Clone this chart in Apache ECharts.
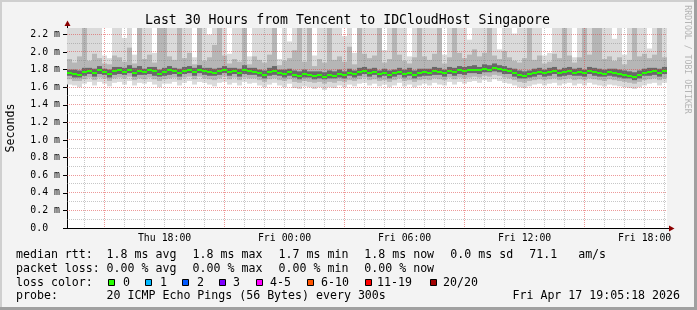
<!DOCTYPE html>
<html><head><meta charset="utf-8">
<script src="https://cdn.jsdelivr.net/npm/echarts@6/dist/echarts.min.js"></script>
<style>html,body{margin:0;padding:0;background:#f3f3f3}#c{width:697px;height:310px}</style>
</head><body><div id="c"></div>
<script>
// ---- time axis (hours since Thu 00:00) ----
const startHour = 13.12;      // Thu ~13:07
const stepHours = 0.25;       // one smoke column = 15 min
const endHour = 43.12;        // Fri ~19:07
const xTickValues = [18, 24, 30, 36, 42];
const xTickLabels = ['Thu 18:00', 'Fri 00:00', 'Fri 06:00', 'Fri 12:00', 'Fri 18:00'];
const xMinorGrid = [14,16,17,18,19,20,22,23,24,25,26,28,29,30,31,32,34,35,36,37,38,40,41,42,43];
const xMajorGrid = [15, 21, 27, 33, 39];
// ---- value axis (milliseconds) ----
const yMax = 2.2727;
const yTickValues = [0, 0.2, 0.4, 0.6, 0.8, 1.0, 1.2, 1.4, 1.6, 1.8, 2.0, 2.2];
const yMinorGrid = [0.1, 0.3, 0.5, 0.7, 0.9, 1.1, 1.3, 1.5, 1.7, 1.9, 2.1];
const yMajorGrid = [0.2, 0.4, 0.6, 0.8, 1.0, 1.2, 1.4, 1.6, 1.8, 2.0, 2.2];

// ---- smoke data (ms), one value per 15-minute column ----
const median = [
 1.76,1.75,1.74,1.77,1.78,1.76,1.79,1.77,1.75,1.78,
 1.79,1.77,1.80,1.76,1.78,1.77,1.79,1.78,1.75,1.77,
 1.79,1.78,1.76,1.78,1.80,1.77,1.79,1.78,1.77,1.76,
 1.78,1.79,1.77,1.78,1.76,1.79,1.78,1.77,1.76,1.74,
 1.77,1.78,1.76,1.75,1.77,1.74,1.73,1.75,1.74,1.73,
 1.74,1.72,1.74,1.73,1.75,1.74,1.76,1.75,1.77,1.78,
 1.76,1.77,1.75,1.76,1.74,1.76,1.77,1.75,1.76,1.74,
 1.76,1.77,1.76,1.78,1.77,1.76,1.78,1.77,1.79,1.78,
 1.79,1.80,1.79,1.81,1.80,1.82,1.81,1.79,1.78,1.76,
 1.74,1.73,1.75,1.76,1.77,1.76,1.77,1.78,1.76,1.77,
 1.78,1.76,1.77,1.76,1.78,1.77,1.76,1.75,1.77,1.76,
 1.75,1.74,1.73,1.72,1.74,1.76,1.77,1.78,1.76,1.78];
const pingQ1 = [
 1.73,1.71,1.71,1.73,1.75,1.72,1.75,1.74,1.71,1.74,
 1.75,1.74,1.76,1.72,1.74,1.74,1.75,1.73,1.72,1.73,
 1.74,1.75,1.72,1.75,1.76,1.73,1.76,1.74,1.73,1.73,
 1.74,1.76,1.73,1.75,1.72,1.75,1.74,1.74,1.72,1.70,
 1.73,1.74,1.73,1.71,1.73,1.71,1.69,1.71,1.71,1.69,
 1.70,1.69,1.70,1.70,1.71,1.70,1.73,1.71,1.73,1.75,
 1.72,1.74,1.71,1.73,1.70,1.72,1.74,1.71,1.73,1.70,
 1.72,1.73,1.73,1.74,1.74,1.72,1.75,1.73,1.75,1.74,
 1.76,1.76,1.75,1.77,1.77,1.78,1.77,1.75,1.75,1.72,
 1.70,1.70,1.71,1.72,1.74,1.72,1.73,1.75,1.72,1.73,
 1.74,1.73,1.73,1.72,1.75,1.73,1.72,1.72,1.73,1.72,
 1.71,1.70,1.70,1.68,1.70,1.73,1.73,1.74,1.72,1.75];
const pingQ3 = [
 1.80,1.80,1.79,1.82,1.82,1.81,1.84,1.81,1.80,1.83,
 1.83,1.82,1.85,1.82,1.84,1.81,1.83,1.83,1.80,1.82,
 1.84,1.82,1.81,1.83,1.84,1.82,1.85,1.82,1.82,1.81,
 1.82,1.84,1.82,1.82,1.81,1.85,1.82,1.82,1.80,1.79,
 1.82,1.84,1.80,1.80,1.81,1.79,1.78,1.80,1.78,1.78,
 1.78,1.77,1.79,1.78,1.80,1.78,1.81,1.79,1.82,1.83,
 1.81,1.82,1.79,1.81,1.79,1.80,1.82,1.80,1.82,1.79,
 1.81,1.81,1.81,1.83,1.82,1.80,1.83,1.82,1.84,1.83,
 1.84,1.85,1.83,1.86,1.85,1.87,1.85,1.84,1.82,1.81,
 1.79,1.78,1.79,1.81,1.82,1.80,1.82,1.83,1.80,1.82,
 1.83,1.81,1.82,1.80,1.83,1.82,1.81,1.80,1.81,1.81,
 1.80,1.79,1.78,1.77,1.79,1.81,1.82,1.82,1.81,1.83];
const pingLow = [
 1.69,1.67,1.67,1.69,1.71,1.68,1.71,1.70,1.67,1.70,
 1.71,1.70,1.72,1.68,1.70,1.69,1.71,1.69,1.67,1.69,
 1.70,1.71,1.68,1.71,1.72,1.69,1.72,1.70,1.69,1.68,
 1.70,1.72,1.69,1.71,1.68,1.71,1.70,1.70,1.68,1.66,
 1.69,1.70,1.68,1.67,1.69,1.66,1.65,1.67,1.66,1.65,
 1.66,1.64,1.66,1.65,1.67,1.66,1.68,1.67,1.69,1.71,
 1.68,1.69,1.67,1.68,1.66,1.68,1.70,1.67,1.68,1.66,
 1.68,1.69,1.68,1.70,1.69,1.68,1.71,1.69,1.71,1.70,
 1.71,1.72,1.71,1.73,1.72,1.74,1.73,1.71,1.70,1.68,
 1.66,1.65,1.67,1.68,1.69,1.68,1.69,1.70,1.68,1.69,
 1.70,1.68,1.69,1.68,1.70,1.69,1.68,1.67,1.69,1.68,
 1.67,1.66,1.65,1.64,1.66,1.68,1.69,1.70,1.68,1.70];
const pingMin = [
 1.63,1.62,1.60,1.64,1.66,1.62,1.66,1.64,1.61,1.65,
 1.66,1.63,1.67,1.62,1.65,1.64,1.66,1.63,1.60,1.64,
 1.64,1.66,1.62,1.65,1.67,1.63,1.66,1.65,1.63,1.61,
 1.65,1.66,1.63,1.65,1.62,1.66,1.64,1.65,1.62,1.60,
 1.63,1.65,1.62,1.60,1.64,1.59,1.58,1.61,1.60,1.58,
 1.60,1.57,1.60,1.59,1.62,1.60,1.63,1.61,1.64,1.65,
 1.62,1.64,1.61,1.63,1.60,1.62,1.65,1.61,1.63,1.60,
 1.62,1.64,1.62,1.65,1.63,1.62,1.66,1.63,1.66,1.64,
 1.66,1.67,1.65,1.68,1.66,1.69,1.67,1.65,1.64,1.62,
 1.60,1.59,1.61,1.63,1.64,1.62,1.64,1.65,1.62,1.64,
 1.65,1.62,1.64,1.62,1.65,1.63,1.62,1.61,1.63,1.62,
 1.61,1.60,1.59,1.58,1.60,1.62,1.64,1.65,1.62,1.65];
const pingHigh = [
 1.92,1.88,1.95,2.40,1.90,1.98,1.93,1.87,1.86,1.96,
 1.94,1.89,2.05,1.87,2.40,1.92,1.97,1.88,2.40,2.40,
 1.95,1.91,2.40,1.93,1.99,1.86,2.40,1.90,1.94,2.08,
 2.40,1.96,1.87,1.92,1.89,2.40,1.86,1.95,1.91,1.88,
 1.97,2.40,1.85,1.90,1.93,2.02,2.40,1.89,2.40,1.84,
 1.92,1.88,2.40,1.91,1.95,1.89,2.06,1.86,2.40,1.98,
 1.93,1.96,2.40,1.88,1.92,2.40,1.97,1.90,1.87,1.94,
 2.40,1.95,1.91,1.98,2.40,1.87,1.94,2.40,1.99,1.93,
 1.97,2.03,1.95,1.99,2.40,1.96,1.92,2.01,1.94,1.90,
 1.88,1.93,2.40,1.91,1.96,1.87,1.89,1.98,1.93,2.40,
 1.96,1.88,1.94,2.40,1.97,2.40,2.40,1.92,1.95,1.90,
 1.94,1.86,1.91,2.40,1.95,1.98,1.93,1.97,2.40,1.94];
const pingMax = [
 2.50,2.50,2.50,2.50,2.50,2.50,2.50,1.96,1.93,2.50,
 2.50,2.16,2.50,1.97,2.50,2.50,2.50,1.99,2.50,2.50,
 2.50,2.50,2.50,2.50,2.50,1.94,2.50,2.50,2.20,2.50,
 2.50,2.50,1.98,2.50,2.50,2.50,1.95,2.50,2.50,2.50,
 2.50,2.50,1.92,2.50,2.12,2.50,2.50,2.50,2.50,1.96,
 2.50,2.50,2.50,2.50,2.50,2.18,2.50,1.99,2.50,2.50,
 2.50,2.50,2.50,2.02,2.50,2.50,2.50,2.50,1.95,2.50,
 2.50,2.50,2.50,2.50,2.50,1.97,2.50,2.50,2.50,2.50,
 2.14,2.50,2.50,2.50,2.50,2.50,2.03,2.50,2.50,2.21,
 2.50,2.50,2.50,2.50,2.50,1.96,1.99,2.50,2.50,2.50,
 2.50,1.94,2.50,2.50,2.50,2.50,2.50,2.50,2.50,2.15,
 2.50,1.97,2.50,2.50,2.50,2.50,2.04,2.50,2.50,2.50];

// ---- legend texts ----
const titleText = 'Last 30 Hours from Tencent to IDCloudHost Singapore';
const yAxisName = 'Seconds';
const watermark = 'RRDTOOL / TOBI OETIKER';
const rttItems = ['median rtt:', '1.8 ms avg', '1.8 ms max', '1.7 ms min', '1.8 ms now', '0.0 ms sd', '71.1   am/s'];
const lossItems = ['packet loss:', '0.00 % avg', '0.00 % max', '0.00 % min', '0.00 % now'];
const lossLabels = ['0', '1', '2', '3', '4-5', '6-10', '11-19', '20/20'];
const lossColors = ['#26ff00', '#00b8ff', '#0059ff', '#7e00ff', '#ff00ff', '#ff5500', '#ff0000', '#a10000'];
const probeText = '20 ICMP Echo Pings (56 Bytes) every 300s';
const dateText = 'Fri Apr 17 19:05:18 2026';

// ---- layout (styles / positions only) ----
const MONO = '"DejaVu Sans Mono", monospace';
const itemX = [16, 106.6, 192.6, 278.6, 364.3, 450.3, 529.3];
const lineY = [254.9, 268.7, 282.5, 296.3];
const boxX = [108, 145, 182, 219, 256, 307, 365, 430];
const boxTextX = [123, 160, 197, 233, 270, 321, 377, 443];

const smokeData = median.map((m, i) => [startHour + i * stepHours, pingMin[i], pingLow[i], pingQ1[i], m, pingQ3[i], pingHigh[i], pingMax[i]]);
const medData = median.map((m, i) => [startHour + i * stepHours, m]);

function renderSmoke(params, api) {
  const cs = params.coordSys;
  const t = api.value(0);
  const x0 = api.coord([t, 0])[0];
  const x1 = api.coord([t + stepHours, 0])[0];
  function band(lo, hi, color) {
    let yT = api.coord([t, hi])[1], yB = api.coord([t, lo])[1];
    yT = Math.max(yT, cs.y); yB = Math.min(yB, cs.y + cs.height);
    return { type: 'rect', shape: { x: x0, y: yT, width: x1 - x0, height: Math.max(0, yB - yT) }, style: { fill: color } };
  }
  return { type: 'group', children: [
    band(api.value(1), api.value(7), '#dadada'),
    band(api.value(2), api.value(6), '#b6b6b6'),
    band(api.value(3), api.value(5), '#686868')
  ]};
}
function renderMedian(params, api) {
  const t = api.value(0);
  const p = api.coord([t, api.value(1)]);
  const x1 = api.coord([t + stepHours, 0])[0];
  const y = Math.round(p[1] - 1);
  return { type: 'rect', shape: { x: p[0], y: y, width: x1 - p[0], height: 2 }, style: { fill: '#26ff00' } };
}
function vLine(color) {
  return function (params, api) {
    const cs = params.coordSys;
    const x = Math.floor(api.coord([api.value(0), 0])[0]) + 0.5;
    return { type: 'line', shape: { x1: x, y1: cs.y, x2: x, y2: cs.y + cs.height }, style: { stroke: color, lineWidth: 1, lineDash: [1, 1] } };
  };
}
function hLine(color) {
  return function (params, api) {
    const cs = params.coordSys;
    const y = Math.floor(api.coord([startHour, api.value(1)])[1]) + 0.5;
    return { type: 'line', shape: { x1: cs.x, y1: y, x2: cs.x + cs.width, y2: y }, style: { stroke: color, lineWidth: 1, lineDash: [1, 1] } };
  };
}
const GRAY = 'rgba(130,130,130,0.45)';
const RED = 'rgba(222,70,70,0.55)';

function txt(text, x, y, size, extra) {
  return { type: 'text', x: x, y: y, silent: true, style: Object.assign({ text: text, fontFamily: MONO, fontSize: size, fill: '#000', align: 'left', verticalAlign: 'middle' }, extra || {}) };
}
const graphics = [];
// frame
graphics.push({ type: 'rect', shape: { x: 0, y: 0, width: 697, height: 2 }, style: { fill: '#cfcfcf' }, silent: true });
graphics.push({ type: 'rect', shape: { x: 0, y: 0, width: 2, height: 310 }, style: { fill: '#cfcfcf' }, silent: true });
graphics.push({ type: 'rect', shape: { x: 694, y: 0, width: 3, height: 310 }, style: { fill: '#a0a0a0' }, silent: true });
graphics.push({ type: 'rect', shape: { x: 0, y: 307, width: 697, height: 3 }, style: { fill: '#a0a0a0' }, silent: true });
// title
graphics.push(txt(titleText, 347.5, 20.1, 13.2, { align: 'center' }));
// axis name
graphics.push({ type: 'text', x: 11, y: 128, rotation: Math.PI / 2, silent: true, style: { text: yAxisName, fontFamily: MONO, fontSize: 11.6, fill: '#000', align: 'center', verticalAlign: 'middle' } });
// watermark
graphics.push({ type: 'text', x: 687, y: 59.5, rotation: -Math.PI / 2, silent: true, style: { text: watermark, fontFamily: MONO, fontSize: 8.2, fill: '#b4b4b4', align: 'center', verticalAlign: 'middle' } });
// axis extensions and arrows
graphics.push({ type: 'line', shape: { x1: 67.5, y1: 28, x2: 67.5, y2: 24 }, style: { stroke: '#000', lineWidth: 1 }, silent: true });
graphics.push({ type: 'polygon', shape: { points: [[64.5, 26], [70.5, 26], [67.5, 20.5]] }, style: { fill: '#8b0000' }, silent: true });
graphics.push({ type: 'line', shape: { x1: 667, y1: 228.5, x2: 671, y2: 228.5 }, style: { stroke: '#000', lineWidth: 1 }, silent: true });
graphics.push({ type: 'polygon', shape: { points: [[669, 225.5], [669, 231.5], [674.5, 228.5]] }, style: { fill: '#8b0000' }, silent: true });
// legend lines
rttItems.forEach((s, i) => graphics.push(txt(s, itemX[i], lineY[0], 11.6)));
lossItems.forEach((s, i) => graphics.push(txt(s, itemX[i], lineY[1], 11.6)));
graphics.push(txt('loss color:', itemX[0], lineY[2], 11.6));
lossLabels.forEach((s, i) => {
  graphics.push({ type: 'rect', silent: true, shape: { x: boxX[i] + 0.5, y: 279.5, width: 6, height: 6 }, style: { fill: lossColors[i], stroke: '#000', lineWidth: 1 } });
  graphics.push(txt(s, boxTextX[i], lineY[2], 11.6));
});
graphics.push(txt('probe:', itemX[0], lineY[3], 11.6));
graphics.push(txt(probeText, itemX[1], lineY[3], 11.6));
graphics.push(txt(dateText, 680, lineY[3], 11.6, { align: 'right' }));

const chart = echarts.init(document.getElementById('c'), null, { renderer: 'canvas' });
chart.setOption({
  animation: false,
  backgroundColor: '#f3f3f3',
  grid: { left: 67, top: 28, width: 600, height: 200, show: true, backgroundColor: '#ffffff', borderWidth: 0 },
  xAxis: {
    type: 'value', min: startHour, max: endHour,
    axisLine: { show: true, onZero: false, lineStyle: { color: '#000', width: 1 } },
    axisTick: { show: false },
    splitLine: { show: false },
    axisLabel: { customValues: xTickValues, formatter: v => xTickLabels[xTickValues.findIndex(t => Math.abs(t - v) < 1e-6)] || '', fontFamily: MONO, fontSize: 9.85, color: '#000', margin: 5 }
  },
  yAxis: {
    type: 'value', min: 0, max: yMax,
    axisLine: { show: true, lineStyle: { color: '#000', width: 1 } },
    axisTick: { show: true, customValues: yTickValues, length: 4, lineStyle: { color: '#000' } },
    splitLine: { show: false },
    axisLabel: { customValues: yTickValues, formatter: v => (Math.abs(v) < 1e-9 ? '0.0  ' : v.toFixed(1) + ' m'), fontFamily: MONO, fontSize: 9.85, color: '#000', margin: 7, padding: [3.6, 0, 0, 0] }
  },
  series: [
    { type: 'custom', name: 'smoke', renderItem: renderSmoke, data: smokeData, encode: { x: 0, y: 4 }, z: 2, silent: true },
    { type: 'custom', name: 'gridMinorX', renderItem: vLine(GRAY), data: xMinorGrid.map(h => [h, 0]), z: 3, silent: true },
    { type: 'custom', name: 'gridMinorY', renderItem: hLine(GRAY), data: yMinorGrid.map(v => [startHour, v]), z: 3, silent: true },
    { type: 'custom', name: 'gridMajorX', renderItem: vLine(RED), data: xMajorGrid.map(h => [h, 0]), z: 4, silent: true },
    { type: 'custom', name: 'gridMajorY', renderItem: hLine(RED), data: yMajorGrid.map(v => [startHour, v]), z: 4, silent: true },
    { type: 'custom', name: 'median', renderItem: renderMedian, data: medData, encode: { x: 0, y: 1 }, z: 5, silent: true }
  ],
  graphic: { elements: graphics }
});
</script>
</body></html>
